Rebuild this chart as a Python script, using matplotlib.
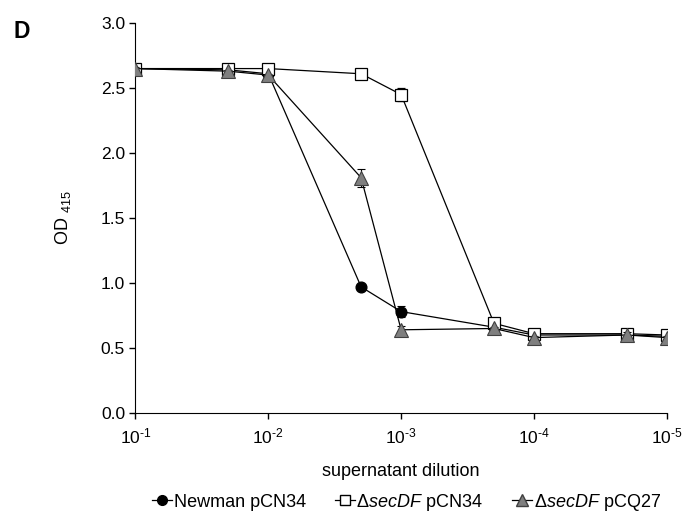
import matplotlib
matplotlib.use("Agg")
import matplotlib.pyplot as plt
from matplotlib.lines import Line2D
from matplotlib.ticker import FixedLocator, NullLocator

plt.rcParams['font.family'] = ['Liberation Sans', 'DejaVu Sans']
plt.rcParams['mathtext.fontset'] = 'custom'
plt.rcParams['mathtext.rm'] = 'Liberation Sans'
plt.rcParams['mathtext.it'] = 'Liberation Sans:italic'
plt.rcParams['mathtext.bf'] = 'Liberation Sans:bold'

# dilutions
dilution = [1e-1, 2e-2, 1e-2, 2e-3, 1e-3, 2e-4, 1e-4, 2e-5, 1e-5]
xtick_vals = [1e-1, 1e-2, 1e-3, 1e-4, 1e-5]
xtick_labels = [r"10$^{\text{-1}}$", r"10$^{\text{-2}}$", r"10$^{\text{-3}}$",
                r"10$^{\text{-4}}$", r"10$^{\text{-5}}$"]

newman = [2.65, 2.64, 2.61, 0.97, 0.78, 0.66, 0.60, 0.60, 0.59]
newman_err = [0.01, 0.01, 0.01, 0.01, 0.04, 0.01, 0.01, 0.01, 0.01]

secdf = [2.65, 2.65, 2.65, 2.61, 2.45, 0.69, 0.61, 0.61, 0.60]
secdf_err = [0.01, 0.01, 0.01, 0.01, 0.05, 0.01, 0.01, 0.01, 0.01]

secdf_cq = [2.65, 2.63, 2.60, 1.81, 0.64, 0.65, 0.58, 0.60, 0.58]
secdf_cq_err = [0.01, 0.01, 0.01, 0.07, 0.03, 0.01, 0.01, 0.02, 0.01]

labels = ["Newman pCN34", r"$\Delta\it{secDF}$ pCN34", r"$\Delta\it{secDF}$ pCQ27"]

fig = plt.figure(figsize=(6.91, 5.13), dpi=100)
ax = fig.add_axes([0.196, 0.195, 0.769, 0.76])

ax.errorbar(dilution, newman, yerr=newman_err, color='black', lw=0.9,
            marker='o', ms=7.7, mfc='black', mec='black',
            capsize=3, elinewidth=0.8, capthick=0.8, zorder=3)
ax.errorbar(dilution, secdf, yerr=secdf_err, color='black', lw=0.9,
            marker='s', ms=8.2, mfc='white', mec='black', mew=0.9,
            capsize=3, elinewidth=0.8, capthick=0.8, zorder=4)
ax.errorbar(dilution, secdf_cq, yerr=secdf_cq_err, color='black', lw=0.9,
            marker='^', ms=9.5, mfc='#7f7f7f', mec='#404040', mew=0.8,
            capsize=3, elinewidth=0.8, capthick=0.8, zorder=5)

ax.set_xscale('log')
ax.set_xlim(1e-1, 1e-5)
ax.set_ylim(0, 3.0)
ax.xaxis.set_major_locator(FixedLocator(xtick_vals))
ax.xaxis.set_minor_locator(NullLocator())
ax.set_xticklabels(xtick_labels)
ax.set_yticks([0, 0.5, 1.0, 1.5, 2.0, 2.5, 3.0])
ax.set_yticklabels(["0.0", "0.5", "1.0", "1.5", "2.0", "2.5", "3.0"])

for s in ['top', 'right']:
    ax.spines[s].set_visible(False)
ax.tick_params(direction='out', length=4, width=1, labelsize=12.5)
ax.tick_params(axis='x', pad=6)

ax.set_xlabel("supernatant dilution", fontsize=13, va='center')
ax.xaxis.set_label_coords(0.5, -0.151)
ax.set_ylabel(r"OD $_{415}$", fontsize=13)
ax.yaxis.set_label_coords(-0.118, 0.5)

fig.text(0.019, 0.926, "D", fontsize=16.5, fontweight='bold')

handles = [
    Line2D([], [], color='black', lw=0.9, marker='o', ms=7, mfc='black', mec='black'),
    Line2D([], [], color='black', lw=0.9, marker='s', ms=7, mfc='white', mec='black'),
    Line2D([], [], color='black', lw=0.9, marker='^', ms=8, mfc='#7f7f7f', mec='#404040'),
]
fig.legend(handles, labels, loc='center', bbox_to_anchor=(0.588, 0.021), ncol=3,
           frameon=False, fontsize=13, handlelength=1.1, handletextpad=0.1,
           columnspacing=1.6, borderpad=0)

fig.savefig("out.png", dpi=100)
